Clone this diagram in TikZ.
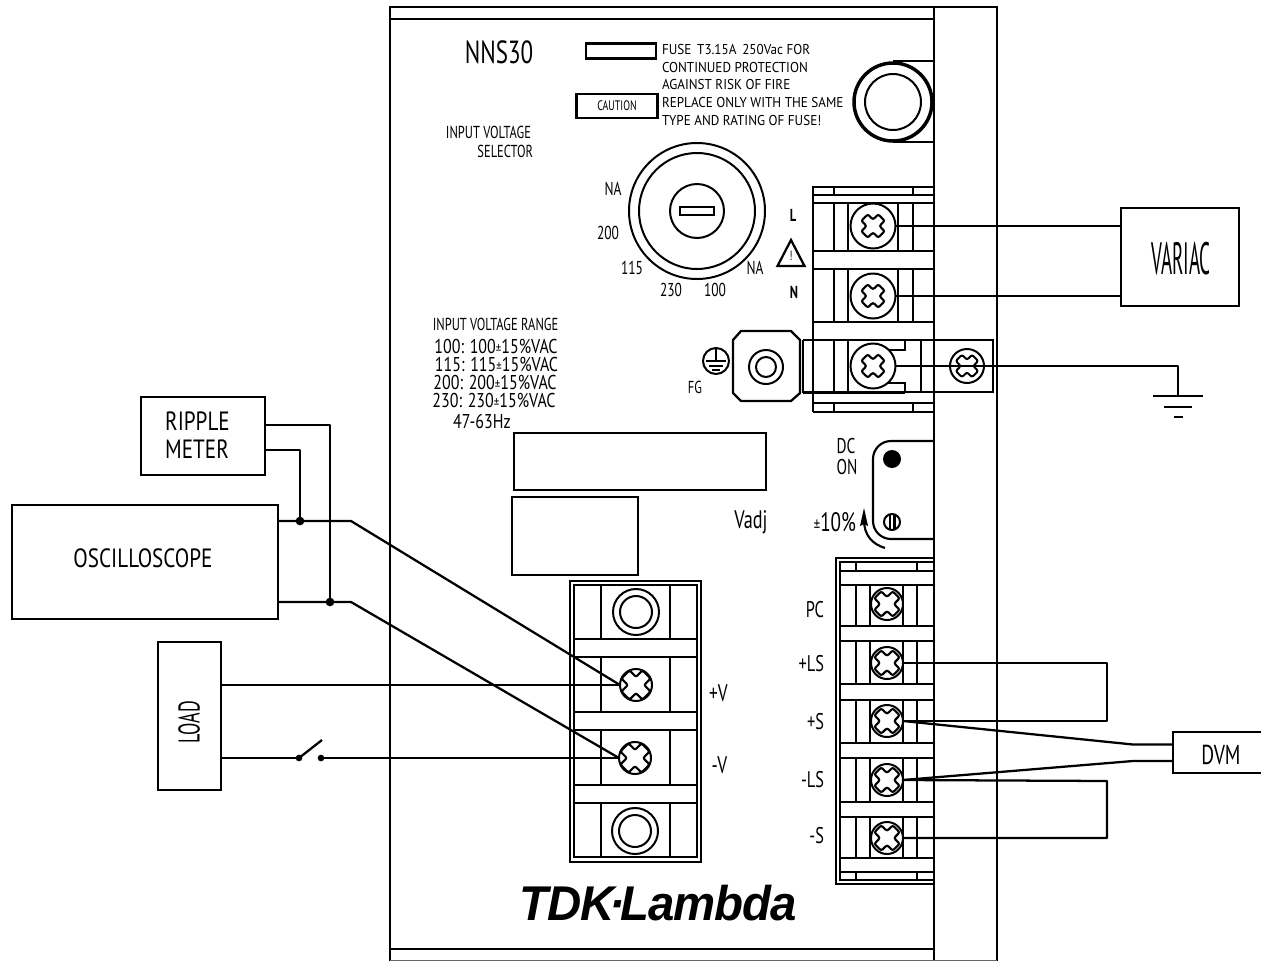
\documentclass[tikz,border=0pt]{standalone}
\usepackage{fontspec}
\setmainfont[FakeStretch=0.72]{PT Sans}
\newfontfamily\midfam[FakeStretch=0.80]{PT Sans}
\newfontfamily\widefam[FakeStretch=0.92]{PT Sans}
\newfontfamily\narrowfam[FakeStretch=0.42]{PT Sans}
\newfontfamily\loadfam[FakeStretch=0.60]{PT Sans}
\newfontfamily\logofont[FakeStretch=0.97,LetterSpace=-2]{Liberation Sans}
\tikzset{
  x=0.75pt,y=-0.75pt,
  every node/.style={inner sep=0pt,outer sep=0pt},
  fs/.style={font=\fontsize{#1}{#1}\selectfont},
  frame/.style={line width=1.9pt},
  thin part/.style={line width=1.6pt},
  wire/.style={line width=1.7pt,line join=round},
  instrument/.style={draw,line width=1.9pt,fill=white},
  screw/.style={circle,draw,line width=1.5pt,fill=white,minimum size=#1*0.75pt},
  junction/.style={circle,fill=black,minimum size=6.5pt},
  lug/.style={circle,draw,line width=1.5pt,minimum size=#1*0.75pt},
  lbl/.style={fs=14},
  fuse text/.style={font=\widefam\fontsize{10.7}{10.7}\selectfont,anchor=west},
  rangetext/.style={font=\midfam\fontsize{15}{15}\selectfont},
}
\newcommand{\crossat}[3]{\draw[shift={(#1)},rotate=45,scale=#2,rounded corners=1.5pt,line width=#3]
  (-1,-.38)--(-.38,-.38)--(-.38,-1)--(.38,-1)--(.38,-.38)--(1,-.38)--(1,.38)--(.38,.38)--(.38,1)--(-.38,1)--(-.38,.38)--(-1,.38)--cycle;}
\newcommand{\screwat}[5]{\node[screw=#4] (#1) at (#2,#3) {};\crossat{#1.center}{#5}{1.6pt}}
\newcommand{\pmm}{{\fontsize{10}{10}\selectfont ±}}
\begin{document}
\begin{tikzpicture}
\useasboundingbox (0,0) rectangle (1261,961);
% --- housing
\draw[frame] (390,961)--(390,7)--(997,7)--(997,961);
\draw[frame] (934,7)--(934,961);
\draw[frame] (390,19)--(934,19);
\draw[frame] (390,949)--(934,949);
\draw[line width=1pt,black!60] (390,960.5)--(997,960.5);
% --- labels panel
\node[draw,line width=1.6pt,minimum width=70*0.75pt,minimum height=15*0.75pt] (fusebox) at (621,51) {};
\node[draw,line width=1.6pt,minimum width=81*0.75pt,minimum height=24*0.75pt,fs=10.3] (caution) at (617,106) {CAUTION};
\node[fuse text] (t1) at (662,50) {FUSE\, T3.15A\, 250Vac FOR};
\node[fuse text] (t2) at (662,68) {CONTINUED PROTECTION};
\node[fuse text] (t3) at (662,85) {AGAINST RISK OF FIRE};
\node[fuse text] (t4) at (662,103) {REPLACE ONLY WITH THE SAME};
\node[fuse text] (t5) at (662,121) {TYPE AND RATING OF FUSE!};
\node[fs=24] (nns) at (499,52) {NNS30};
\node[fs=13,anchor=east] (iv1) at (531,132) {INPUT VOLTAGE};
\node[fs=13,anchor=east] (iv2) at (533,151) {SELECTOR};
% --- fuse holder
\draw[thin part] (893,61)--(934,61) (893,142)--(934,142);
\node[lug=78,line width=2.6pt,fill=white] (fuseo) at (893,102) {};
\node[lug=56] (fusei) at (893,102) {};
% --- selector
\node[lug=136] (selo) at (697,211) {};
\node[lug=116] (seli) at (697,211) {};
\node[lug=54] (selh) at (697,211) {};
\node[draw,line width=1.5pt,minimum width=34*0.75pt,minimum height=8*0.75pt] (slot) at (697,211) {};
\node[lbl] (na1) at (613,189) {NA};
\node[lbl] (v200) at (608,233) {200};
\node[lbl] (v115) at (632,268) {115};
\node[lbl] (v230) at (671,290) {230};
\node[lbl] (v100) at (715,290) {100};
\node[lbl] (na2) at (755,268) {NA};
\node[font=\fontsize{13}{13}\selectfont\bfseries] (lL) at (793,215) {L};
\node[font=\fontsize{13}{13}\selectfont\bfseries] (lN) at (794,292) {N};
\draw[line width=1.7pt,line join=miter] (791,240)--(777.5,266)--(804.5,266)--cycle;
\node[fs=10] (bang) at (791,256) {!};
% --- upper terminal block
\draw[frame] (813,412)--(813,187)--(934,187);
\draw[thin part] (813,195)--(934,195) (813,203)--(934,203);
\draw[thin part] (834,187)--(834,195) (913,187)--(913,195);
\draw[thin part] (813,251)--(934,251) (813,269)--(934,269) (813,322)--(934,322) (813,403)--(934,403);
\draw[frame] (813,412)--(934,412);
\draw[thin part] (834,403)--(834,412) (913,403)--(913,412);
\foreach \xx in {834,848,898,913}{\draw[thin part] (\xx,203)--(\xx,251) (\xx,269)--(\xx,322);}
\foreach \xx in {834,848}{\draw[thin part] (\xx,340)--(\xx,392);}
\draw[thin part] (921,340)--(921,392);
\draw[frame] (803,340)--(993,340)--(993,392)--(905,392);
\draw[line width=2.6pt] (803,392.5)--(905,392.5);
\draw[thin part] (803,340)--(803,393);
\draw[thin part] (905,340)--(905,350)--(885,350) (905,392)--(905,383)--(885,383);
% --- ground lug
\draw[line width=1.7pt,line join=round,fill=white] (733,340)--(741,331)--(791,331)--(800,340)--(800,393)--(791,401)--(741,401)--(733,393)--cycle;
\node[lug=34] (ring1) at (766,367) {};
\node[lug=20] (ring2) at (766,367) {};
\node[lug=26] (pe) at (716,361) {};
\draw[line width=1.1pt] (pe.north)--(716,361) (706,361)--(726,361) (709,366)--(723,366) (712,370)--(720,370);
\node[fs=13] (fg) at (695,387) {FG};
% --- screws upper
\screwat{sL}{873}{226}{45}{12}
\screwat{sN}{873}{296}{45}{12}
\screwat{sF}{873}{366}{45}{12}
\node[screw=34] (sG) at (967,366) {};
\crossat{sG.center}{11.5}{1.5pt}
% --- right panel
\draw[thin part,rounded corners=18*0.75pt] (934,441)--(873,441)--(873,539)--(934,539);
\node[circle,fill=black,minimum size=18*0.75pt] (led) at (892,459) {};
\node[lug=16] (trim) at (892,522) {};
\draw[thin part] (890,515)--(890,529) (894.5,515)--(894.5,529);
\node[fs=16] (dc) at (846,446) {DC};
\node[fs=16] (on) at (847,467) {ON};
\node[fs=20] (pct) at (835,522) {{\fontsize{13}{13}\selectfont ±}10\%};
\node[fs=19] (vadj) at (751,522) {Vadj};
\draw[thin part] (885,548) .. controls (872,544) and (864,535) .. (864,520);
\fill (864,508)--(860,526)--(864,524)--(868,526)--cycle;
% --- right terminal block
\draw[frame] (934,558)--(836,558)--(836,884)--(934,884);
\draw[thin part] (934,562)--(840,562)--(840,880)--(934,880);
\draw[thin part] (840,571)--(934,571) (840,585)--(934,585) (840,626)--(934,626) (840,641)--(934,641) (840,684)--(934,684) (840,700)--(934,700) (840,743)--(934,743) (840,758)--(934,758) (840,802)--(934,802) (840,817)--(934,817) (840,858)--(934,858) (840,872)--(934,872);
\draw[thin part] (856,562)--(856,571) (917,562)--(917,571) (856,872)--(856,880) (917,872)--(917,880);
\foreach \xx in {856,870,903,917}{\draw[thin part] (\xx,585)--(\xx,626) (\xx,641)--(\xx,684) (\xx,700)--(\xx,743) (\xx,758)--(\xx,802) (\xx,817)--(\xx,858);}
\screwat{sPC}{887}{604}{32}{13}
\screwat{sLSp}{887}{663}{32}{13}
\screwat{sSp}{887}{721}{32}{13}
\screwat{sLSm}{887}{780}{32}{13}
\screwat{sSm}{887}{838}{32}{13}
\node[fs=17,anchor=east] (pc) at (824,610) {PC};
\node[fs=17,anchor=east] (lsp) at (824,664) {+LS};
\node[fs=17,anchor=east] (ssp) at (824,722) {+S};
\node[fs=17,anchor=east] (lsm) at (824,780) {-LS};
\node[fs=17,anchor=east] (ssm) at (824,836) {-S};
% --- blank labels and range text
\node[draw,line width=1.6pt,minimum width=252*0.75pt,minimum height=57*0.75pt] (blank1) at (640,461.5) {};
\node[draw,line width=1.6pt,minimum width=126*0.75pt,minimum height=78*0.75pt] (blank2) at (575,536) {};
\node[fs=13] (r0) at (495.5,324) {INPUT VOLTAGE RANGE};
\node[rangetext] (r1) at (496,346) {100: 100\pmm15\%VAC};
\node[rangetext] (r2) at (496.5,364) {115: 115\pmm15\%VAC};
\node[rangetext] (r3) at (495,382) {200: 200\pmm15\%VAC};
\node[rangetext] (r4) at (494,400) {230: 230\pmm15\%VAC};
\node[rangetext] (r5) at (482,421) {47-63Hz};
% --- lower-left terminal block
\draw[frame] (570,581) rectangle (701,862);
\draw[thin part] (574,585) rectangle (697,857);
\foreach \yy in {639,657,712,730,785,803}{\draw[thin part] (574,\yy)--(697,\yy);}
\foreach \xx in {601,670}{\draw[thin part] (\xx,585)--(\xx,639) (\xx,657)--(\xx,712) (\xx,730)--(\xx,785) (\xx,803)--(\xx,857);}
\node[lug=46] (tb1a) at (636,612) {};
\node[lug=32] (tb1b) at (636,612) {};
\node[lug=46] (tb4a) at (635,831) {};
\node[lug=32] (tb4b) at (635,831) {};
\screwat{sVp}{636}{685}{32}{15}
\screwat{sVm}{635}{758}{32}{15}
\node[fs=18] (vp) at (718.5,693) {+V};
\node[fs=18] (vm) at (719.5,765) {-V};
% --- logo
\node[font=\logofont\fontsize{36.6}{36.6}\selectfont\bfseries\itshape,anchor=base] (logo) at (658,920) {TDK\kern-.1em·\kern-.1em Lambda};
% --- instruments
\node[instrument,minimum width=118*0.75pt,minimum height=98*0.75pt] (variac) at (1180,257) {};
\node[font=\narrowfam\fontsize{34}{34}\selectfont] (variact) at (1181,259) {VARIAC};
\node[instrument,minimum width=124*0.75pt,minimum height=78*0.75pt] (ripple) at (203,436) {};
\node[font=\midfam\fontsize{19.8}{19.8}\selectfont] (ripplet1) at (197.5,421) {RIPPLE};
\node[font=\midfam\fontsize{19.8}{19.8}\selectfont] (ripplet2) at (197,449) {METER};
\node[instrument,minimum width=266*0.75pt,minimum height=114*0.75pt] (osc) at (145,562) {};
\node[font=\midfam\fontsize{19.8}{19.8}\selectfont] (osct) at (143,558) {OSCILLOSCOPE};
\node[instrument,minimum width=63*0.75pt,minimum height=148*0.75pt] (load) at (189.5,716) {};
\node[font=\loadfam\fontsize{22.5}{22.5}\selectfont,rotate=90] (loadt) at (189,722) {LOAD};
\draw[line width=1.9pt,fill=white] (1262,732)--(1173,732)--(1173,773)--(1262,773);
\node[fs=20.5] (dvmt) at (1221,755) {DVM};
\coordinate (dvmA) at (1173,744.5);
\coordinate (dvmB) at (1173,761);
% --- wires
\draw[wire] (sL.east)--(variac.west|-sL);
\draw[wire] (sN.east)--(variac.west|-sN);
\coordinate (gnd) at (1178,396);
\draw[wire] (sF.east)--(gnd|-sF)--(gnd);
\draw[wire] (1153,396)--(1203,396) (1164,407)--(1192,407) (1174,417)--(1183,417);
\draw[wire] (sLSp.east)--(1107,663)--(1107,721)--(sSp.east);
\draw[wire] (sLSm.east)--(1107,781)--(1107,838)--(sSm.east);
\draw[wire] (sSp.east)--(1133,744.5)--(dvmA);
\draw[wire] (sLSm.east)--(1133,761)--(dvmB);
\node[junction] (j1) at (300,521) {};
\node[junction] (j2) at (330,602) {};
\draw[wire] (ripple.east|-0,425)--(330,425)--(j2.center);
\draw[wire] (ripple.east|-0,450)--(300,450)--(j1.center);
\draw[wire] (osc.east|-j1)--(351,521)--(sVp.west);
\draw[wire] (osc.east|-j2)--(351,602)--(sVm.west);
\draw[wire] (load.east|-sVp)--(sVp.west);
\node[circle,fill=black,minimum size=5pt] (sw1) at (299,758) {};
\node[circle,fill=black,minimum size=5pt] (sw2) at (321,758) {};
\draw[wire] (load.east|-sw1)--(sw1);
\draw[wire] (sw2)--(sVm.west);
\draw[wire] (sw1.center)--(322,740);
\end{tikzpicture}
\end{document}
